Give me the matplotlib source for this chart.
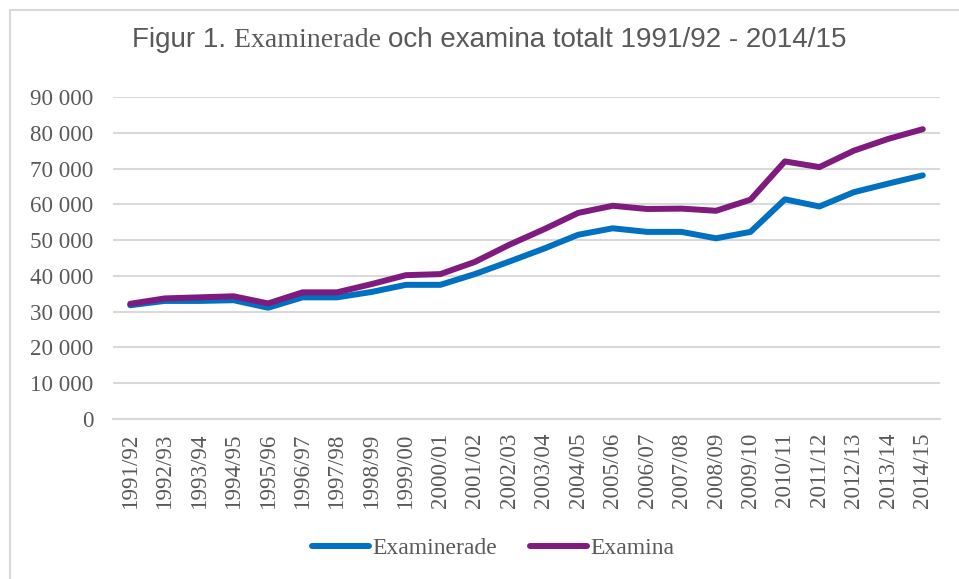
import matplotlib.pyplot as plt
from matplotlib.patches import Rectangle

# Academic years and counts
years = ['1991/92', '1992/93', '1993/94', '1994/95', '1995/96', '1996/97',
         '1997/98', '1998/99', '1999/00', '2000/01', '2001/02', '2002/03',
         '2003/04', '2004/05', '2005/06', '2006/07', '2007/08', '2008/09',
         '2009/10', '2010/11', '2011/12', '2012/13', '2013/14', '2014/15']
examinerade = [31800, 33000, 33000, 33200, 31100, 34000, 34000, 35500,
               37500, 37500, 40500, 44000, 47600, 51500, 53300, 52300,
               52300, 50500, 52300, 61400, 59400, 63400, 65800, 68100]
examina = [32200, 33700, 34000, 34300, 32300, 35400, 35400, 37700,
           40200, 40500, 43900, 48700, 53000, 57600, 59600, 58700,
           58800, 58200, 61300, 72000, 70400, 75000, 78300, 81000]
yticks = list(range(0, 90001, 10000))
ytick_labels = ['0' if v == 0 else f'{v // 1000} 000' for v in yticks]

blue = '#0070C0'
purple = '#7F1A7F'
grey_text = '#595959'
grid_col = '#D9D9D9'
serif = ['Liberation Serif', 'DejaVu Serif']

fig = plt.figure(figsize=(9.59, 5.79), dpi=100)
ax = fig.add_axes([113 / 959, 1 - 419 / 579, (940 - 113) / 959, (419 - 97) / 579])

x = list(range(len(years)))
ax.plot(x, examinerade, color=blue, lw=4.3, solid_capstyle='round', label='Examinerade', zorder=3)
ax.plot(x, examina, color=purple, lw=4.3, solid_capstyle='round', label='Examina', zorder=3)

ax.set_xlim(-0.5, len(years) - 0.5)
ax.set_ylim(0, 90000)
ax.set_yticks(yticks)
ax.set_yticklabels(ytick_labels, family=serif, fontsize=16.6, color=grey_text)
ax.set_xticks(x)
ax.set_xticklabels(years, rotation=90, family=serif, fontsize=16.6, color=grey_text)
ax.tick_params(axis='both', length=0)
ax.tick_params(axis='x', pad=10)
ax.tick_params(axis='y', pad=14)
ax.grid(axis='y', color=grid_col, lw=1.5)
ax.set_axisbelow(True)
for side in ['top', 'right', 'left']:
    ax.spines[side].set_visible(False)
ax.spines['bottom'].set_color(grid_col)
ax.spines['bottom'].set_linewidth(1.5)

leg = fig.legend(loc='center', bbox_to_anchor=(493 / 959, 1 - 548 / 579), ncol=2,
                 frameon=False, prop={'family': serif, 'size': 17},
                 handlelength=2.4, handletextpad=0.15, columnspacing=1.4)
for t in leg.get_texts():
    t.set_color(grey_text)

# chart border
fig.patches.append(Rectangle((10 / 959, -0.1), 2, 1.1 - 10 / 579, transform=fig.transFigure,
                             fill=False, edgecolor=grid_col, lw=1.5))

# title mixes sans and serif fonts, put the pieces side by side
sans = ['Liberation Sans Narrow', 'Liberation Sans', 'DejaVu Sans']
parts = [('Figur 1. ', sans, 20), ('Examinerade ', serif, 20),
         ('och examina totalt 1991/92 - 2014/15', sans, 20)]
renderer = fig.canvas.get_renderer()
texts = []
for s, fam, size in parts:
    texts.append(fig.text(0, 1 - 47 / 579, s, family=fam, fontsize=size,
                          color=grey_text, va='baseline', ha='left'))
widths = [t.get_window_extent(renderer).width for t in texts]
x0 = (130 + 848) / 2 - sum(widths) / 2
for t, w in zip(texts, widths):
    t.set_x(x0 / 959)
    x0 += w

fig.savefig('out.png', dpi=100)
